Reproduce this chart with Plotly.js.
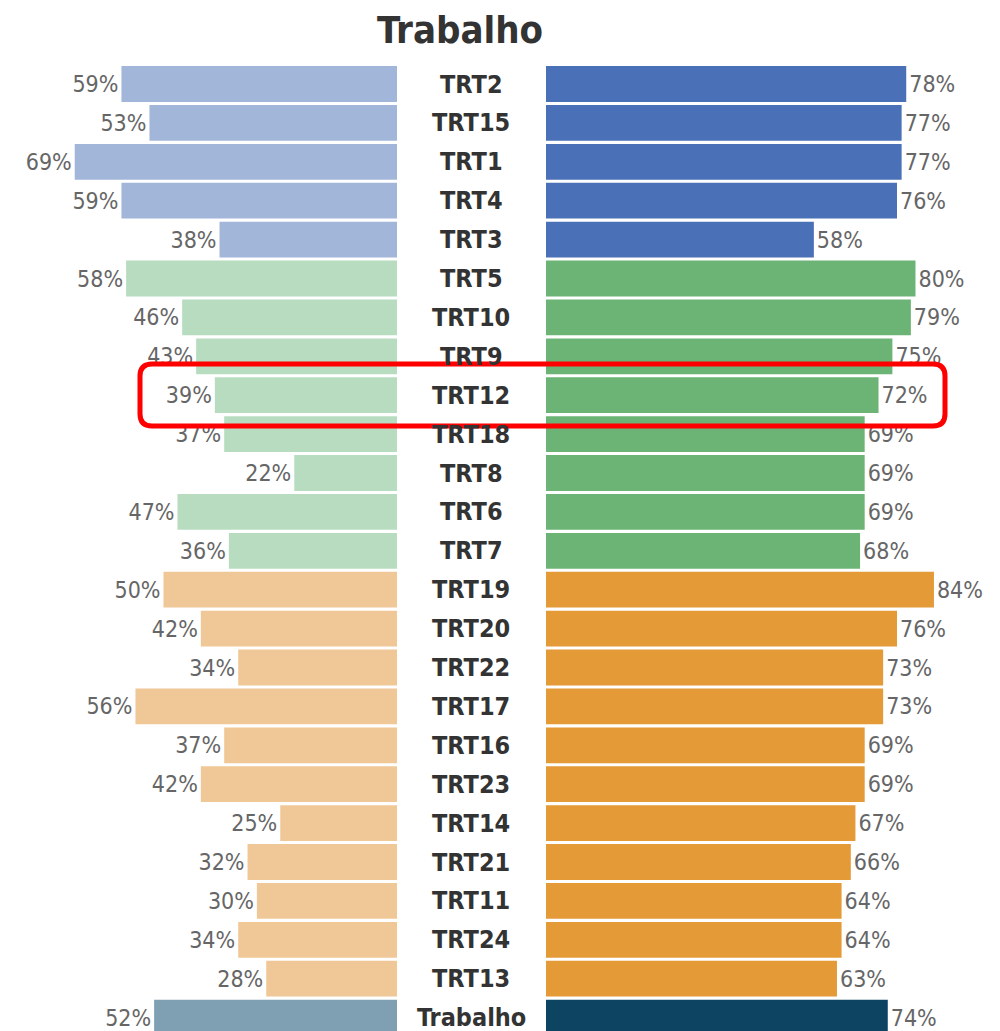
<!DOCTYPE html>
<html>
<head>
<meta charset="utf-8">
<script src="https://cdn.plot.ly/plotly-3.0.1.min.js"></script>
<style>html,body{margin:0;padding:0;background:#fff}#chart{width:1000px;height:1031px}</style>
</head>
<body>
<div id="chart"></div>
<script>
const categories = ["TRT2","TRT15","TRT1","TRT4","TRT3","TRT5","TRT10","TRT9","TRT12","TRT18","TRT8","TRT6","TRT7","TRT19","TRT20","TRT22","TRT17","TRT16","TRT23","TRT14","TRT21","TRT11","TRT24","TRT13","Trabalho"];
const leftValues = [59,53,69,59,38,58,46,43,39,37,22,47,36,50,42,34,56,37,42,25,32,30,34,28,52];
const rightValues = [78,77,77,76,58,80,79,75,72,69,69,69,68,84,76,73,73,69,69,67,66,64,64,63,74];
const groups = ["blue","blue","blue","blue","blue","green","green","green","green","green","green","green","green","orange","orange","orange","orange","orange","orange","orange","orange","orange","orange","orange","total"];
const titleText = "Trabalho";
const highlighted = "TRT12";

const leftColors = {blue:"#a2b6da", green:"#b8dcc0", orange:"#f0c897", total:"#7fa0b3"};
const rightColors = {blue:"#4a71b7", green:"#6cb476", orange:"#e39a37", total:"#0d4462"};

const FONT = "DejaVu Sans Condensed, Liberation Sans Narrow, DejaVu Sans, sans-serif";

const left = {
  type:"bar", orientation:"h", y:categories, x:leftValues,
  xaxis:"x", yaxis:"y",
  marker:{color:groups.map(g=>leftColors[g])},
  text:leftValues.map(v=>v+"%"), textposition:"outside", cliponaxis:false, constraintext:"none",
  textfont:{family:FONT, size:23, color:"#666666"},
  hoverinfo:"skip"
};
const right = {
  type:"bar", orientation:"h", y:categories, x:rightValues,
  xaxis:"x2", yaxis:"y",
  marker:{color:groups.map(g=>rightColors[g])},
  text:rightValues.map(v=>v+"%"), textposition:"outside", cliponaxis:false, constraintext:"none",
  textfont:{family:FONT, size:23, color:"#666666"},
  hoverinfo:"skip"
};

const H = 1031, T = 45;
function py(p){ return (H - p) / (H - T); }
function px(p){ return p / 1000; }
// rounded rectangle around highlighted row
const x0=140, x1=945, y0=364, y1=426, r=12;
const path = `M ${px(x0+r)} ${py(y0)} L ${px(x1-r)} ${py(y0)} Q ${px(x1)} ${py(y0)} ${px(x1)} ${py(y0+r)} L ${px(x1)} ${py(y1-r)} Q ${px(x1)} ${py(y1)} ${px(x1-r)} ${py(y1)} L ${px(x0+r)} ${py(y1)} Q ${px(x0)} ${py(y1)} ${px(x0)} ${py(y1-r)} L ${px(x0)} ${py(y0+r)} Q ${px(x0)} ${py(y0)} ${px(x0+r)} ${py(y0)} Z`;

const annotations = categories.map(c=>({
  xref:"paper", yref:"y", x:0.471, y:c, text:"<b>"+c+"</b>", showarrow:false,
  xanchor:"center", yanchor:"middle",
  font:{family:FONT, size:25, color:"#333333"}
}));

const layout = {
  width:1000, height:1031,
  margin:{l:0, r:0, t:T, b:0, pad:0},
  paper_bgcolor:"#ffffff", plot_bgcolor:"#ffffff",
  showlegend:false,
  bargap:0.08,
  title:{text:"<b>"+titleText+"</b>", x:0.46, xanchor:"center", y:0.971, yanchor:"middle", xref:"paper", yref:"container",
         font:{family:FONT, size:38, color:"#333333"}},
  xaxis:{domain:[0,0.397], range:[85,0], visible:false, fixedrange:true},
  xaxis2:{domain:[0.546,1], range:[0,98.3], visible:false, fixedrange:true},
  yaxis:{type:"category", categoryorder:"array", categoryarray:categories, range:[24.344,-1.003], visible:false, fixedrange:true},
  annotations:annotations,
  shapes:[{type:"path", xref:"paper", yref:"paper", path:path, line:{color:"#ff0000", width:5}, fillcolor:"rgba(0,0,0,0)", layer:"above"}]
};

Plotly.newPlot("chart",[left,right],layout,{displayModeBar:false, staticPlot:true});
</script>
</body>
</html>
